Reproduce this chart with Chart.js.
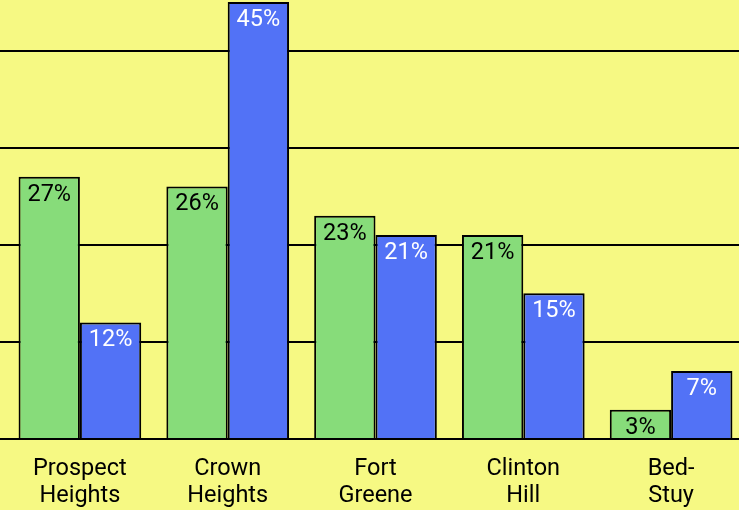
<!DOCTYPE html>
<html>
<head>
<meta charset="utf-8">
<script src="https://cdn.jsdelivr.net/npm/chart.js@4/dist/chart.umd.min.js"></script>
<style>
  html, body { margin: 0; padding: 0; background: #f6f983; overflow: hidden; }
  #wrap { position: relative; width: 760px; height: 510px; }
</style>
</head>
<body>
<div id="wrap"><canvas id="c"></canvas></div>
<script>
// Neighbourhoods along the x axis (each split over two lines)
const neighborhoods = [
  ["Prospect", "Heights"],
  ["Crown", "Heights"],
  ["Fort", "Greene"],
  ["Clinton", "Hill"],
  ["Bed-", "Stuy"]
];
// Shares in percent for the two series
const greenSeries = [27, 26, 23, 21, 3];
const blueSeries = [12, 45, 21, 15, 7];
const yTicks = [0, 10, 20, 30, 40];

const FONT = "Roboto, 'Liberation Sans Narrow', sans-serif";

// Writes each bar's value inside the top of the bar
const valueLabels = {
  id: 'valueLabels',
  afterDatasetsDraw(chart) {
    const ctx = chart.ctx;
    ctx.save();
    ctx.font = "23.5px " + FONT;
    ctx.textAlign = 'center';
    ctx.textBaseline = 'middle';
    chart.data.datasets.forEach((ds, i) => {
      const meta = chart.getDatasetMeta(i);
      meta.data.forEach((bar, j) => {
        ctx.fillStyle = ds.labelColor;
        ctx.fillText(ds.data[j] + '%', bar.x, bar.y + 18);
      });
    });
    ctx.restore();
  }
};

new Chart(document.getElementById('c'), {
  type: 'bar',
  data: {
    labels: neighborhoods,
    datasets: [
      { data: greenSeries, backgroundColor: '#87dc7a', borderColor: '#000', borderWidth: 2, labelColor: '#000' },
      { data: blueSeries, backgroundColor: '#5272f6', borderColor: '#000', borderWidth: 2, labelColor: '#fff' }
    ]
  },
  options: {
    responsive: true,
    maintainAspectRatio: false,
    animation: false,
    layout: { padding: { left: 0, right: 15, top: 2, bottom: 0 } },
    plugins: { legend: { display: false }, tooltip: { enabled: false } },
    datasets: { bar: { categoryPercentage: 0.83, barPercentage: 1.0 } },
    scales: {
      x: {
        grid: { display: false },
        border: { color: '#000', width: 2 },
        ticks: { color: '#000', font: { family: FONT, size: 23.5, lineHeight: 1.13 }, padding: 9, maxRotation: 0, autoSkip: false },
        afterFit(scale) { scale.height = 71; }
      },
      y: {
        min: 0,
        max: 45,
        afterBuildTicks(axis) { axis.ticks = yTicks.map(v => ({ value: v })); },
        grid: { color: '#000', lineWidth: 2, drawTicks: true, tickLength: 6 },
        border: { display: false },
        ticks: { display: false, padding: 0 },
        afterFit(scale) { scale.width = 6; }
      }
    }
  },
  plugins: [valueLabels]
});
</script>
</body>
</html>
